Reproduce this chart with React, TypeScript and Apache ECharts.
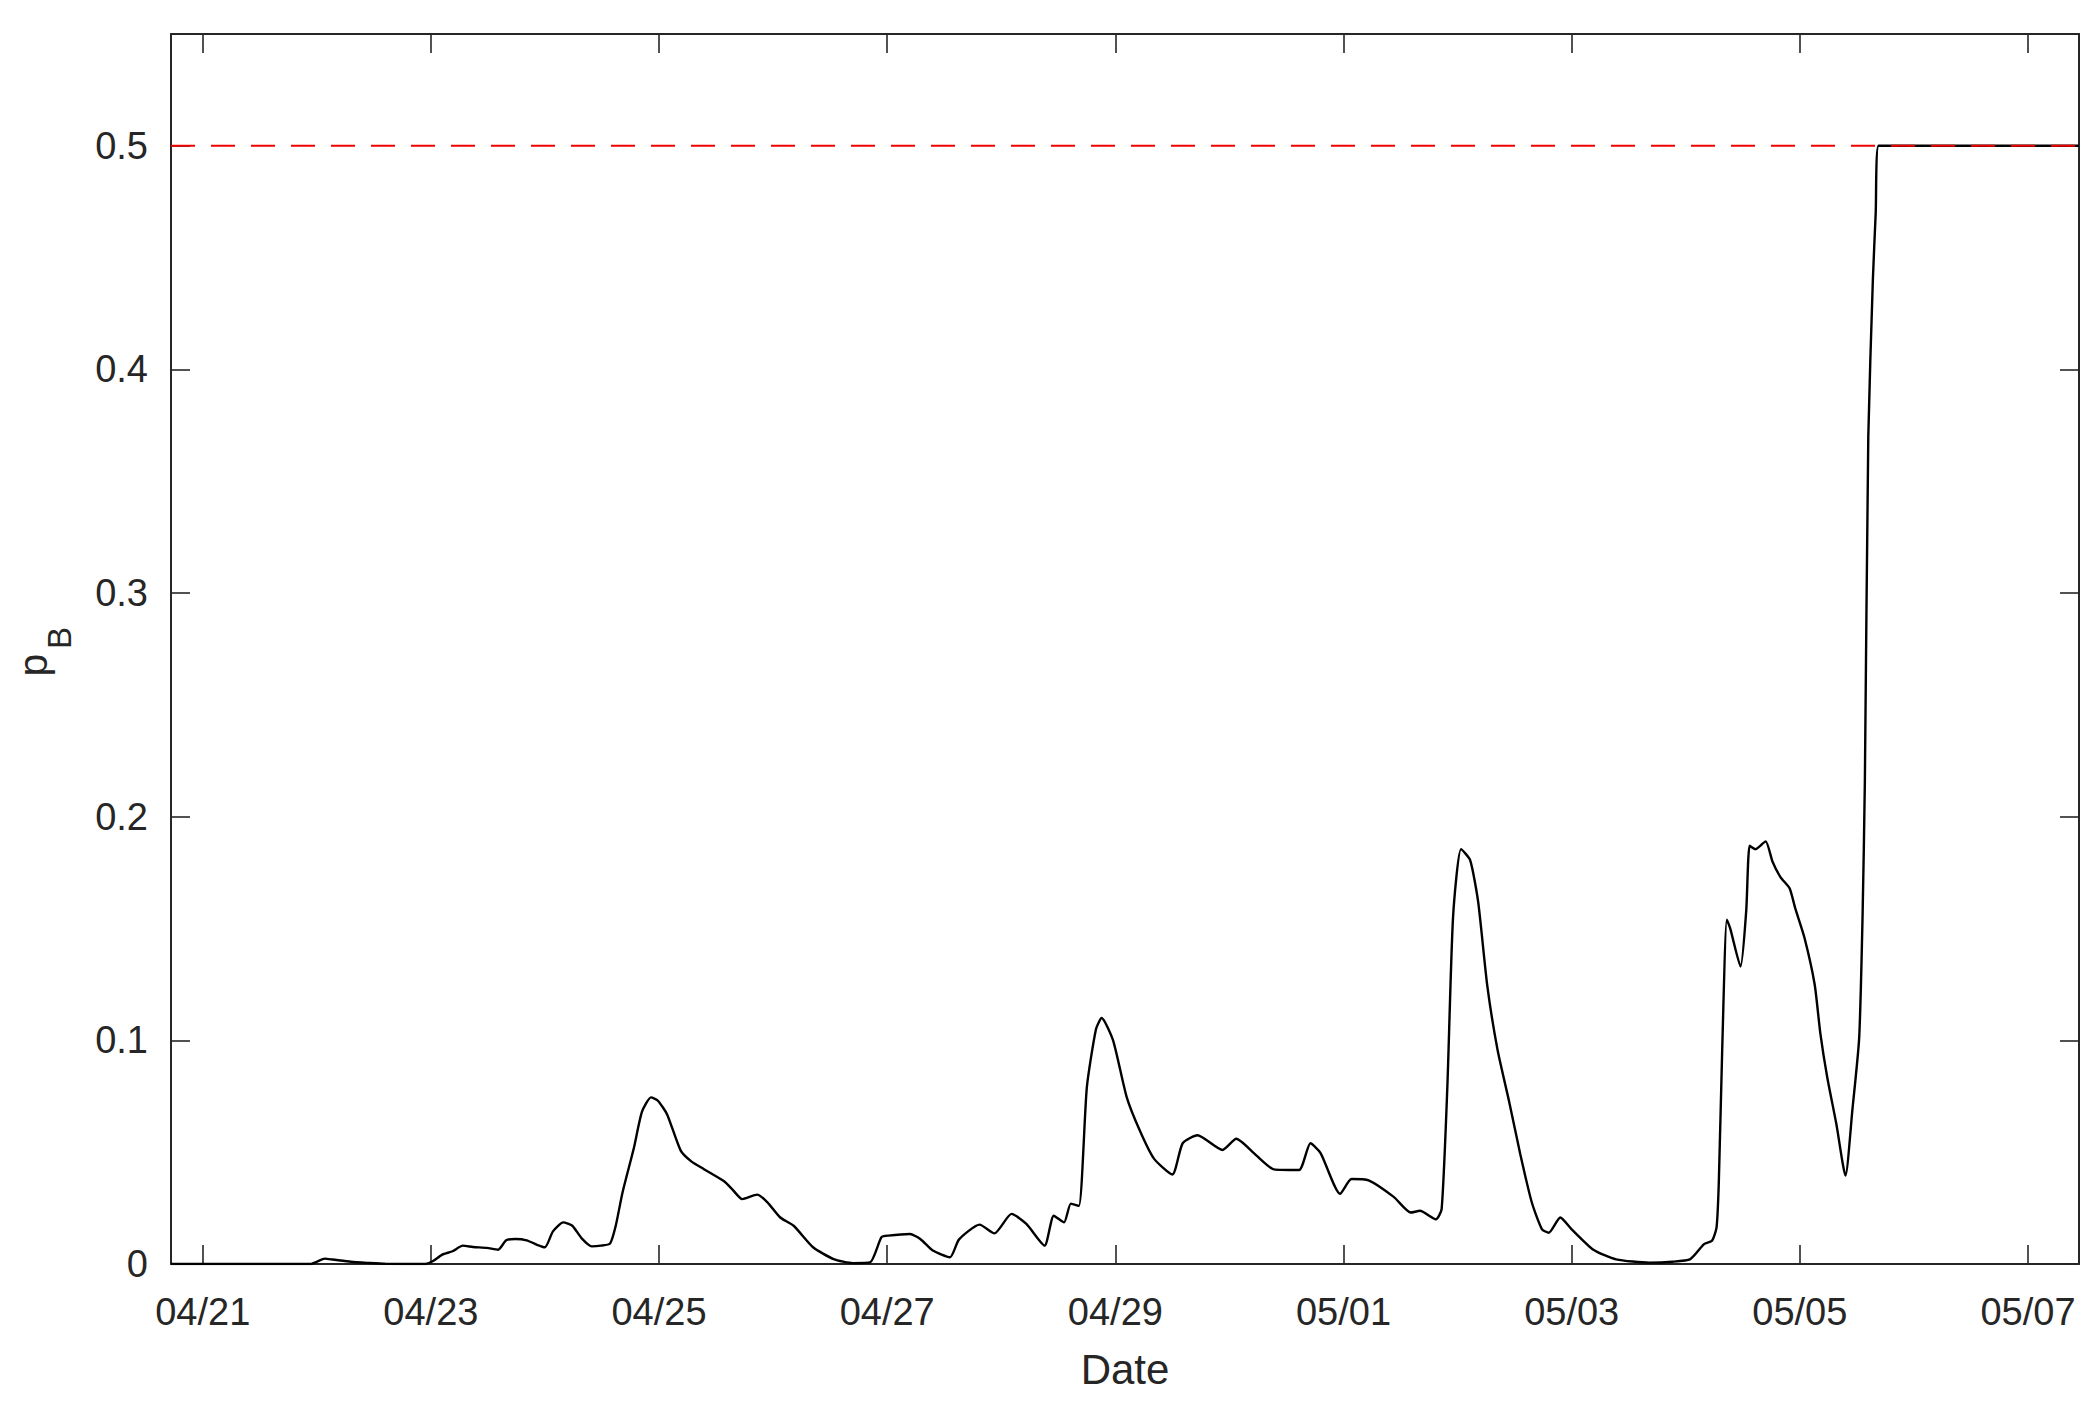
import React, { useEffect, useRef } from 'react';
import * as echarts from 'echarts';

// x = days since 04/21 00:00
const dayOffsets = [
  -0.278, 0.95, 1.0, 1.07, 1.14, 1.3, 1.45, 1.6, 1.95, 2.015,
  2.10, 2.19, 2.28, 2.37, 2.49, 2.59, 2.66, 2.74, 2.84, 2.93,
  3.00, 3.07, 3.16, 3.24, 3.32, 3.41, 3.49, 3.57, 3.62, 3.68,
  3.78, 3.85, 3.93, 3.99, 4.07, 4.19, 4.28, 4.39, 4.57, 4.64,
  4.73, 4.86, 4.95, 5.06, 5.18, 5.35, 5.53, 5.70, 5.85, 5.95,
  6.01, 6.20, 6.29, 6.40, 6.55, 6.63, 6.81, 6.94, 7.09, 7.22,
  7.38, 7.46, 7.55, 7.61, 7.68, 7.75, 7.83, 7.88, 7.98, 8.10,
  8.22, 8.34, 8.50, 8.59, 8.72, 8.94, 9.06, 9.23, 9.39, 9.61,
  9.71, 9.80, 9.97, 10.07, 10.22, 10.44, 10.59, 10.67, 10.81, 10.86,
  10.91, 10.96, 11.03, 11.11, 11.18, 11.26, 11.35, 11.45, 11.55, 11.65,
  11.74, 11.80, 11.90, 12.00, 12.19, 12.39, 12.68, 12.88, 13.04, 13.16,
  13.23, 13.27, 13.29, 13.32, 13.36, 13.39, 13.48, 13.53, 13.56, 13.61,
  13.70, 13.76, 13.83, 13.91, 13.96, 14.04, 14.13, 14.18, 14.24, 14.32,
  14.40, 14.46, 14.52, 14.55, 14.57, 14.60, 14.64, 14.665, 14.69, 16.447,
];

const pB = [
  0, 0, 0.001, 0.0024, 0.002, 0.001, 0.0005, 0.0001, 0, 0.0012,
  0.0042, 0.0057, 0.0082, 0.0076, 0.0072, 0.0064, 0.0106, 0.0112, 0.0106, 0.0086,
  0.0075, 0.0146, 0.0186, 0.0171, 0.0116, 0.0079, 0.0082, 0.0091, 0.017, 0.032,
  0.052, 0.068, 0.0745, 0.073, 0.067, 0.0507, 0.046, 0.0425, 0.037, 0.0335,
  0.029, 0.031, 0.0276, 0.0209, 0.0171, 0.0075, 0.0022, 0.0004, 0.0007, 0.012,
  0.0127, 0.0134, 0.0112, 0.006, 0.003, 0.011, 0.0176, 0.0137, 0.0224, 0.0179,
  0.0082, 0.0216, 0.0186, 0.027, 0.026, 0.079, 0.105, 0.110, 0.100, 0.0745,
  0.059, 0.047, 0.040, 0.054, 0.0576, 0.051, 0.056, 0.0488, 0.0423, 0.042,
  0.054, 0.0495, 0.0314, 0.038, 0.0374, 0.030, 0.023, 0.0238, 0.020, 0.0245,
  0.079, 0.155, 0.1855, 0.1806, 0.162, 0.1245, 0.0958, 0.073, 0.049, 0.0276,
  0.0155, 0.014, 0.0208, 0.0155, 0.0064, 0.0021, 0.0006, 0.001, 0.0022, 0.0089,
  0.0104, 0.0164, 0.037, 0.097, 0.154, 0.150, 0.133, 0.158, 0.187, 0.1855,
  0.189, 0.180, 0.173, 0.168, 0.159, 0.146, 0.125, 0.103, 0.0835, 0.0626,
  0.0395, 0.0686, 0.101, 0.156, 0.216, 0.37, 0.44, 0.47, 0.5, 0.5,
];

const tickDays = [0, 2, 4, 6, 8, 10, 12, 14, 16];
const tickLabels = ['04/21', '04/23', '04/25', '04/27', '04/29', '05/01', '05/03', '05/05', '05/07'];
const yTicks = [0, 0.1, 0.2, 0.3, 0.4, 0.5];
const threshold = 0.5;
const xRange = [-0.278, 16.447];
const yRange = [0, 0.55];

const FONT = '"Liberation Sans", Arial, Helvetica, sans-serif';
const AX = '#262626';

export default function App() {
  const ref = useRef<HTMLDivElement>(null);

  useEffect(() => {
    const chart = echarts.init(ref.current!, null, { renderer: 'svg' });
    const lineData = dayOffsets.map((d, i) => [d, pB[i]]);
    const axisCommonX = {
      type: 'value' as const,
      min: xRange[0],
      max: xRange[1],
      splitLine: { show: false },
      axisLine: { show: true, onZero: false, lineStyle: { color: AX, width: 2 } },
      axisTick: { show: true, inside: true, length: 19, customValues: tickDays, lineStyle: { color: AX, width: 1.6 } },
    };
    const axisCommonY = {
      type: 'value' as const,
      min: yRange[0],
      max: yRange[1],
      splitLine: { show: false },
      axisLine: { show: true, onZero: false, lineStyle: { color: AX, width: 2 } },
      axisTick: { show: true, inside: true, length: 19, customValues: yTicks, lineStyle: { color: AX, width: 1.6 } },
    };
    chart.setOption({
      animation: false,
      backgroundColor: '#ffffff',
      textStyle: { fontFamily: FONT },
      grid: { left: 171, right: 20, top: 34, bottom: 141, containLabel: false, outerBoundsMode: 'none' },
      xAxis: [
        {
          ...axisCommonX,
          position: 'bottom',
          name: 'Date',
          nameLocation: 'middle',
          nameGap: 84,
          nameTextStyle: { fontSize: 42, color: AX, fontFamily: FONT },
          axisLabel: {
            show: true,
            margin: 29,
            fontSize: 38,
            color: AX,
            fontFamily: FONT,
            customValues: tickDays,
            formatter: (v: number) => {
              const i = tickDays.indexOf(v);
              return i >= 0 ? tickLabels[i] : '';
            },
          },
        },
        {
          ...axisCommonX,
          position: 'top',
          axisLabel: { show: false },
        },
      ],
      yAxis: [
        {
          ...axisCommonY,
          position: 'left',
          axisLabel: {
            show: true,
            margin: 23,
            fontSize: 38,
            color: AX,
            fontFamily: FONT,
            customValues: yTicks,
            formatter: (v: number) => String(Math.round(v * 10) / 10),
          },
        },
        {
          ...axisCommonY,
          position: 'right',
          axisLabel: { show: false },
        },
      ],
      series: [
        {
          type: 'line',
          xAxisIndex: 0,
          yAxisIndex: 0,
          data: lineData,
          showSymbol: false,
          symbol: 'none',
          smooth: 0.2,
          lineStyle: { color: '#000000', width: 2.4 },
          z: 2,
        },
        {
          type: 'line',
          xAxisIndex: 0,
          yAxisIndex: 0,
          data: [[xRange[0], threshold], [xRange[1], threshold]],
          showSymbol: false,
          symbol: 'none',
          lineStyle: { color: '#f00000', width: 2, type: [24, 16] },
          z: 3,
        },
      ],
      graphic: [
        {
          type: 'text',
          x: 33,
          y: 665,
          rotation: Math.PI / 2,
          style: { text: 'p', fontSize: 41, fontFamily: FONT, fill: AX, align: 'center', verticalAlign: 'middle' },
        },
        {
          type: 'text',
          x: 59,
          y: 638,
          rotation: Math.PI / 2,
          style: { text: 'B', fontSize: 33, fontFamily: FONT, fill: AX, align: 'center', verticalAlign: 'middle' },
        },
      ],
    });
    return () => chart.dispose();
  }, []);

  return (
    <div
      ref={ref}
      style={{ position: 'fixed', left: 0, top: 0, width: 2099, height: 1405, background: '#ffffff' }}
    />
  );
}
